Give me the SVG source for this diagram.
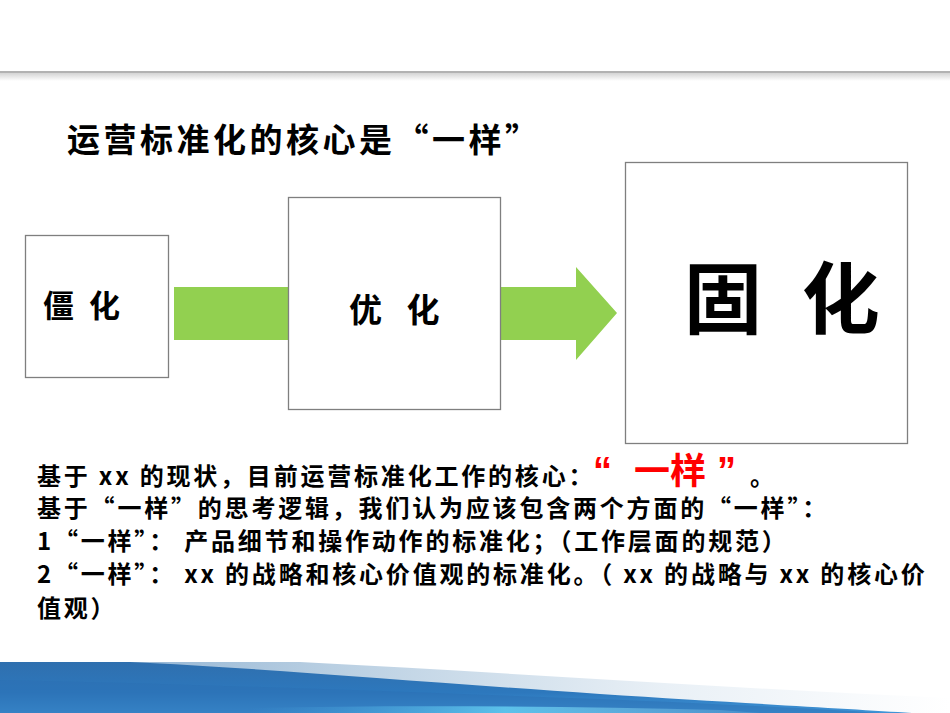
<svg xmlns="http://www.w3.org/2000/svg" width="950" height="713" viewBox="0 0 950 713">
<defs>
<style>
.box{fill:#ffffff;stroke:#7f7f7f;stroke-width:1.3}
.cjk{font-family:"Noto Sans CJK SC","Liberation Sans",sans-serif;font-weight:bold;fill:#000}
.body{font-size:24px;letter-spacing:2.8px}
.red{font-size:36px;fill:#ff0000}
.q{font-family:"Liberation Sans","Noto Sans CJK SC",sans-serif;font-size:38px}
</style>
<linearGradient id="shadow" x1="0" y1="0" x2="0" y2="1">
<stop offset="0" stop-color="#d4d4d4"/>
<stop offset="1" stop-color="#ffffff"/>
</linearGradient>
<linearGradient id="light" x1="0" y1="0" x2="1" y2="0">
<stop offset="0" stop-color="#7ea6cc"/>
<stop offset="0.35" stop-color="#b9cfe2"/>
<stop offset="0.7" stop-color="#e9f0f6"/>
<stop offset="1" stop-color="#ffffff"/>
</linearGradient>
<linearGradient id="dark" x1="0" y1="0" x2="0" y2="1">
<stop offset="0" stop-color="#2f6fae"/>
<stop offset="0.6" stop-color="#2d78bd"/>
<stop offset="1" stop-color="#3f94d6"/>
</linearGradient>
<linearGradient id="streak" x1="0" y1="0" x2="1" y2="0">
<stop offset="0" stop-color="#4aa6e0" stop-opacity="0"/>
<stop offset="0.5" stop-color="#66d2f4"/>
<stop offset="1" stop-color="#9fd8f0" stop-opacity="0.2"/>
</linearGradient>
</defs>
<rect width="950" height="713" fill="#ffffff"/>

<!-- top rule -->
<rect x="0" y="73" width="950" height="8" fill="url(#shadow)"/>
<rect x="0" y="71" width="950" height="2" fill="#b2b2b2"/>

<!-- bottom banner -->
<path d="M0,662 L300,662 C500,672 720,688 950,698 L950,713 L0,713 Z" fill="url(#light)"/>
<path d="M0,662 L130,662 C260,668 420,682 600,694 C740,703 850,709 912,713 L0,713 Z" fill="url(#dark)"/>
<path d="M0,680 C200,684 400,692 600,699 C720,704 820,709 880,713 L0,713 Z" fill="#2b6fb3" opacity="0.5"/>
<path d="M250,708 C400,705 560,706 720,710 L760,713 L250,713 Z" fill="url(#streak)" opacity="0.8"/>

<!-- title -->
<text class="cjk" x="67" y="152" font-size="33" letter-spacing="3.5">运营标准化的核心是“一样”</text>

<!-- connectors -->
<g id="connectors">
<path d="M174,287 L576,287 L576,267 L617,313 L576,360 L576,340 L174,340 Z" fill="#92d050"/>
</g>

<g id="node1">
<rect class="box" x="25.5" y="235.5" width="143" height="142"/>
<text class="cjk" x="43" y="317" font-size="31" xml:space="preserve">僵 <tspan dx="8">化</tspan></text>
</g>

<g id="node2">
<rect class="box" x="288.5" y="197.5" width="212" height="212"/>
<text class="cjk" x="349" y="322" font-size="33" xml:space="preserve">优 <tspan dx="17">化</tspan></text>
</g>

<g id="node3">
<rect class="box" x="625.5" y="162.5" width="282" height="281"/>
<text class="cjk" x="684" y="328" font-size="78" xml:space="preserve">固 <tspan dx="22">化</tspan></text>
</g>

<!-- body text -->
<g id="body">
<text class="cjk body" x="37" y="485">基于 xx 的现状，目前运营标准化工作的核心<tspan letter-spacing="0">：</tspan></text>
<text class="cjk red" x="593" y="484" xml:space="preserve"><tspan class="q">“</tspan><tspan x="634">一样</tspan><tspan class="q" x="717">”</tspan></text>
<text class="cjk body" x="750" y="485">。</text>
<text class="cjk body" x="37" y="517">基于“一样”的思考逻辑，我们认为应该包含两个方面的“一样”：</text>
<text class="cjk body" x="37" y="550" xml:space="preserve">1“一样”： 产品细节和操作动作的标准化；（工作层面的规范）</text>
<text class="cjk body" x="37" y="583">2“一样”： xx 的战略和核心价值观的标准化。（ xx 的战略与 xx 的核心价</text>
<text class="cjk body" x="37" y="617">值观）</text>
</g>
</svg>
